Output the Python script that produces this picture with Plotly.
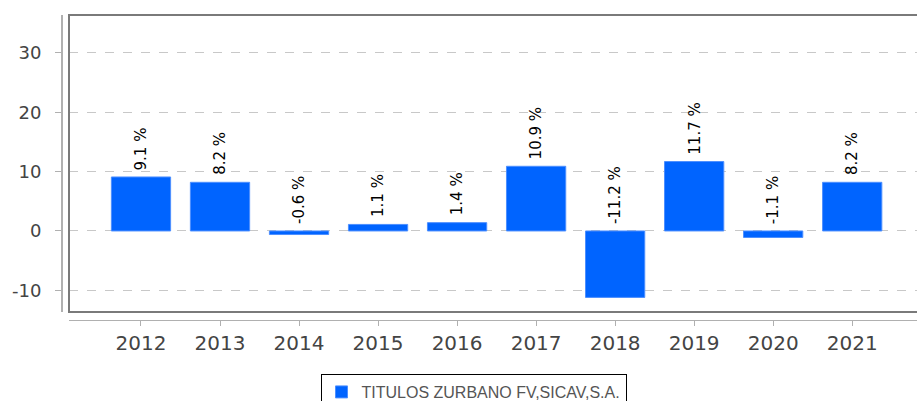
import plotly.graph_objects as go

years = ["2012", "2013", "2014", "2015", "2016", "2017", "2018", "2019", "2020", "2021"]
values = [9.1, 8.2, -0.6, 1.1, 1.4, 10.9, -11.2, 11.7, -1.1, 8.2]
series_name = "TITULOS ZURBANO FV,SICAV,S.A."
y_ticks = [-10, 0, 10, 20, 30]

W, H = 917, 401
ml, mr, mt, mb = 62, 0, 15, 81
pw = W - ml - mr
ph = H - mt - mb
x_dom0 = 7 / pw
y_dom0 = 8 / ph

fig = go.Figure()
fig.add_trace(go.Bar(
    x=years, y=values, name=series_name, width=0.75,
    marker=dict(color="#0064ff", line=dict(color="#4d8fff", width=1)),
    showlegend=True,
))

annotations = []
for i, v in enumerate(values):
    annotations.append(dict(
        x=i, y=max(v, 0), xref="x", yref="y", text=f"{v} %", textangle=-90,
        yanchor="bottom", xanchor="center", yshift=5, showarrow=False,
        font=dict(family="DejaVu Sans", size=15, color="#000000"),
    ))

fig.update_layout(
    width=W, height=H,
    margin=dict(l=ml, r=mr, t=mt, b=mb, autoexpand=False),
    paper_bgcolor="white", plot_bgcolor="white",
    annotations=annotations,
    shapes=[dict(type="rect", xref="x domain", yref="y domain", x0=0, x1=1.05, y0=0, y1=1,
                 line=dict(color="#7a7a7a", width=2), layer="above")],
    xaxis=dict(
        domain=[x_dom0, 1], anchor="free", position=0,
        type="category", range=[-0.911, 9.82],
        showline=True, linecolor="#b0b0b0", linewidth=1,
        ticks="outside", ticklen=5, tickcolor="#b0b0b0",
        showgrid=False,
        tickfont=dict(family="DejaVu Sans", size=20, color="#444444"),
        ticklabelstandoff=0,
    ),
    yaxis=dict(
        domain=[y_dom0, 1], anchor="free", position=0,
        range=[-13.66, 36.4],
        tickvals=y_ticks, ticktext=[str(t) for t in y_ticks],
        showline=True, linecolor="#b0b0b0", linewidth=2,
        ticks="outside", ticklen=6, tickcolor="#b0b0b0",
        showgrid=True, gridcolor="#c8c8c8", griddash="dash", gridwidth=1,
        zeroline=False,
        tickfont=dict(family="DejaVu Sans", size=18, color="#444444"),
        ticklabelstandoff=10,
    ),
    legend=dict(
        orientation="h", x=(473.5 - ml) / pw, xanchor="center",
        y=-54 / ph, yanchor="top",
        bordercolor="#000000", borderwidth=1,
        font=dict(family="Liberation Sans", size=16, color="#555555"),
    ),
)

fig.write_html("out.html", config={"displayModeBar": False},
               post_script="document.body.style.margin='0';")
